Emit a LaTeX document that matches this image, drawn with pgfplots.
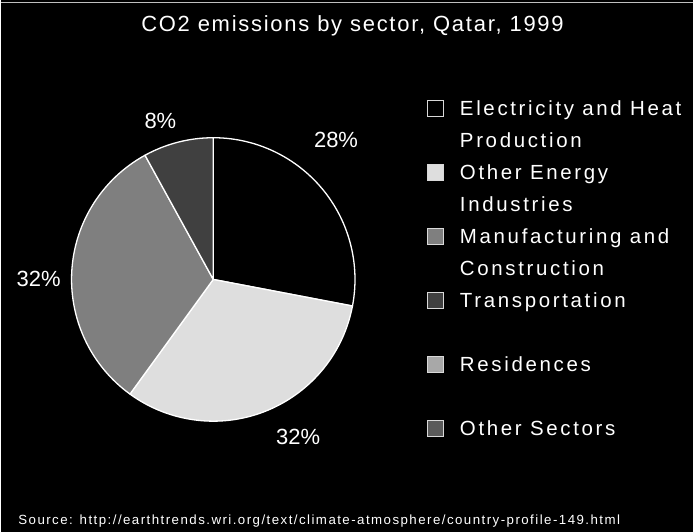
\documentclass[border=0pt]{standalone}
\usepackage{pgfplots}
\usepackage{pgfplotstable}
\pgfplotsset{compat=1.18}
\usepackage{fontspec}
\setmainfont{Liberation Sans}
\newfontfamily\titlefont[LetterSpace=8]{Liberation Sans}
\newfontfamily\legfont[LetterSpace=13]{Liberation Sans}
\newfontfamily\srcfont[LetterSpace=11]{Liberation Sans}

\definecolor{slice0}{HTML}{000000}
\definecolor{slice1}{HTML}{DEDEDE}
\definecolor{slice2}{HTML}{7F7F7F}
\definecolor{slice3}{HTML}{404040}
\definecolor{slice4}{HTML}{A8A8A8}
\definecolor{slice5}{HTML}{5A5A5A}

% share of each sector (%), and where its percent label sits (px)
\pgfplotstableread{
idx value lx ly
0   28    336 148
1   32    298 445
2   32    38  287
3   8     160 129
4   0     0   0
5   0     0   0
}\piedata

\begin{document}
\begin{tikzpicture}
% start and end angle of each slice, clockwise from 12 o'clock
\xdef\cum{0}
\foreach \i in {0,...,5}{
  \pgfplotstablegetelem{\i}{value}\of\piedata
  \pgfmathsetmacro\sa{90-3.6*\cum}
  \pgfmathsetmacro\newcum{\cum+\pgfplotsretval}
  \pgfmathsetmacro\ea{90-3.6*\newcum}
  \expandafter\xdef\csname sa\i\endcsname{\sa}
  \expandafter\xdef\csname ea\i\endcsname{\ea}
  \expandafter\xdef\csname pv\i\endcsname{\pgfplotsretval}
  \pgfplotstablegetelem{\i}{lx}\of\piedata
  \expandafter\xdef\csname lx\i\endcsname{\pgfplotsretval}
  \pgfplotstablegetelem{\i}{ly}\of\piedata
  \expandafter\xdef\csname ly\i\endcsname{\pgfplotsretval}
  \xdef\cum{\newcum}
}
\begin{axis}[
    x=1pt, y=1pt,
    xmin=0, xmax=694,
    ymin=-533, ymax=0,
    hide axis,
    clip=false,
  ]
  \fill[black] (axis cs:0,0) rectangle (axis cs:694,-533);
  \draw[white!75!black, line width=1.4pt] (axis cs:0,-2.3) -- (axis cs:694,-2.3);

  \node[anchor=base, white, inner sep=0pt, font=\titlefont\fontsize{22}{26}\selectfont]
    at (axis cs:352.5,-31.7) {CO2 emissions by sector, Qatar, 1999};

  % pie
  \pgfplotsinvokeforeach{0,...,3}{
    \fill[fill=slice#1, draw=white, line width=1.3pt, line join=round]
      (axis cs:213,-280) -- ++(\csname sa#1\endcsname:142pt)
      arc[start angle=\csname sa#1\endcsname, end angle=\csname ea#1\endcsname, radius=142pt]
      -- cycle;
    \node[anchor=base, white, inner sep=0pt, font=\fontsize{22}{26}\selectfont]
      at (axis cs:\csname lx#1\endcsname,-\csname ly#1\endcsname)
      {\csname pv#1\endcsname\%};
  }

  % legend
  \pgfplotsinvokeforeach{0,...,5}{
    \fill[fill=slice#1, draw=white!85!black, line width=1pt]
      (axis cs:427.5,{-101-64*#1}) rectangle (axis cs:443.5,{-117-64*#1});
  }
  \begin{scope}[every node/.style={anchor=base west, white, inner sep=0pt, font=\legfont\fontsize{20.5}{24}\selectfont}]
    \node at (axis cs:460,-116) {Electricity and Heat};
    \node at (axis cs:460,-148) {Production};
    \node at (axis cs:460,-180) {Other Energy};
    \node at (axis cs:460,-212) {Industries};
    \node at (axis cs:460,-244) {Manufacturing and};
    \node at (axis cs:460,-276) {Construction};
    \node at (axis cs:460,-308) {Transportation};
    \node at (axis cs:460,-372) {Residences};
    \node at (axis cs:460,-436) {Other Sectors};
  \end{scope}

  \node[anchor=base west, white, inner sep=0pt, font=\srcfont\fontsize{13.3}{16}\selectfont]
    at (axis cs:17.5,-526) {Source: http://earthtrends.wri.org/text/climate-atmosphere/country-profile-149.html};
\end{axis}
\end{tikzpicture}
\end{document}
